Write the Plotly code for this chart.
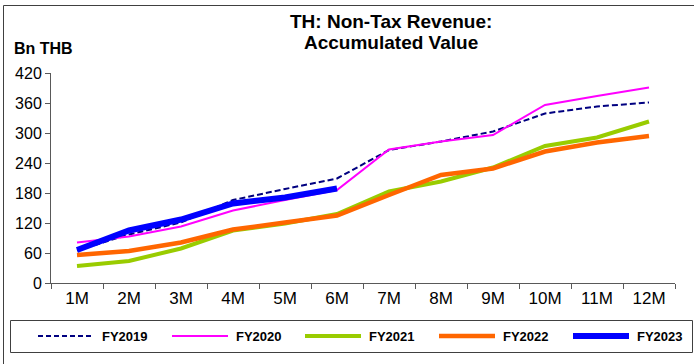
import plotly.graph_objects as go

# Accumulated non-tax revenue, billions of THB, by month of fiscal year
months = ["1M", "2M", "3M", "4M", "5M", "6M", "7M", "8M", "9M", "10M", "11M", "12M"]
fy2019 = [65, 97, 121, 166, 188, 209, 266, 283, 303, 339, 353, 361]
fy2020 = [81, 93, 113, 145, 166, 186, 267, 283, 296, 356, 374, 391]
fy2021 = [34, 44, 69, 105, 119, 138, 183, 203, 231, 274, 291, 323]
fy2022 = [56, 64, 81, 107, 121, 135, 176, 216, 229, 263, 281, 294]
fy2023 = [66, 105, 127, 159, 171, 189]
y_ticks = [0, 60, 120, 180, 240, 300, 360, 420]

W, H = 694, 364
L, R, T, B = 51, 675, 73, 283
FONT = "Liberation Sans, Arial, sans-serif"
AXIS_COLOR = "#595959"


def px(x):
    return (x - L) / (R - L)


def py(y):
    return (B - y) / (B - T)


series = [
    ("FY2019", fy2019, dict(color="#000080", width=2, dash="6px,3px")),
    ("FY2020", fy2020, dict(color="#FF00FF", width=2)),
    ("FY2021", fy2021, dict(color="#99CC00", width=4)),
    ("FY2022", fy2022, dict(color="#FF6600", width=4.5)),
    ("FY2023", fy2023, dict(color="#0000FF", width=6)),
]

fig = go.Figure()
for name, vals, line in series:
    fig.add_trace(go.Scatter(
        x=months[:len(vals)], y=vals, mode="lines", name=name,
        line=line, showlegend=False, hoverinfo="x+y+name",
    ))

shapes = []
annotations = []

# outer frame (left and top edges)
shapes.append(dict(type="line", xref="paper", yref="paper",
                   x0=px(3.5), x1=px(3.5), y0=py(5.5), y1=py(370),
                   line=dict(color="#404040", width=1)))
shapes.append(dict(type="line", xref="paper", yref="paper",
                   x0=px(3.5), x1=px(700), y0=py(5.5), y1=py(5.5),
                   line=dict(color="#404040", width=1)))

# legend box
shapes.append(dict(type="rect", xref="paper", yref="paper",
                   x0=px(10.5), x1=px(692.5), y0=py(320.5), y1=py(352.5),
                   line=dict(color="#404040", width=1), fillcolor="rgba(0,0,0,0)"))

legend_x = [38, 172, 305, 439, 573]
legend_y = 336
for (name, _, line), lx in zip(series, legend_x):
    lline = dict(line)
    if name == "FY2019":
        lline["dash"] = "5px,3px"
    shapes.append(dict(type="line", xref="paper", yref="paper",
                       x0=px(lx), x1=px(lx + 56), y0=py(legend_y), y1=py(legend_y),
                       line=lline))
    annotations.append(dict(text="<b>%s</b>" % name, xref="paper", yref="paper",
                            x=px(lx + 62), y=py(legend_y), xanchor="left", yanchor="middle",
                            showarrow=False, font=dict(family=FONT, size=13, color="#000")))

# title
annotations.append(dict(text="<b>TH: Non-Tax Revenue:</b>", xref="paper", yref="paper",
                        x=px(391), y=py(21), xanchor="center", yanchor="middle",
                        showarrow=False, font=dict(family=FONT, size=19, color="#000")))
annotations.append(dict(text="<b>Accumulated Value</b>", xref="paper", yref="paper",
                        x=px(391), y=py(42), xanchor="center", yanchor="middle",
                        showarrow=False, font=dict(family=FONT, size=19, color="#000")))
# unit label
annotations.append(dict(text="<b>Bn THB</b>", xref="paper", yref="paper",
                        x=px(12), y=py(48), xanchor="left", yanchor="middle",
                        showarrow=False, font=dict(family=FONT, size=16, color="#000")))

fig.update_layout(
    width=W, height=H,
    margin=dict(l=L, r=W - R, t=T, b=H - B, pad=0),
    paper_bgcolor="white", plot_bgcolor="white",
    showlegend=False,
    shapes=shapes, annotations=annotations,
    font=dict(family=FONT, size=17, color="#000"),
)
fig.update_xaxes(
    type="category", categoryorder="array", categoryarray=months,
    range=[-0.5, 11.5], tickson="boundaries", ticks="outside", ticklen=5,
    tickcolor=AXIS_COLOR, showline=True, linecolor=AXIS_COLOR, linewidth=1,
    showgrid=False, zeroline=False, tickfont=dict(family=FONT, size=17, color="#000"),
)
fig.update_yaxes(
    range=[0, 420], tickvals=y_ticks, ticks="outside", ticklen=5,
    tickcolor=AXIS_COLOR, showline=True, linecolor=AXIS_COLOR, linewidth=1,
    showgrid=False, zeroline=False, tickfont=dict(family=FONT, size=16, color="#000"),
)

fig.write_html("out.html")
